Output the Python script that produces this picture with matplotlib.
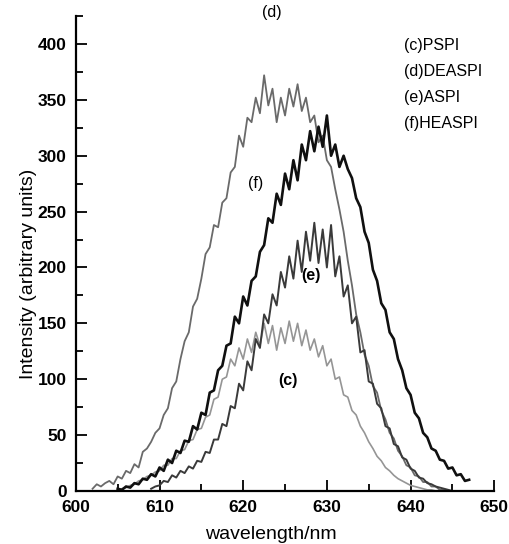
import numpy as np
import matplotlib
matplotlib.use("Agg")
import matplotlib.pyplot as plt
from matplotlib.ticker import MultipleLocator

step = 0.5

# (c) PSPI
c_start = 605.0
c_vals = [1, 2, 3, 5, 6, 9, 10, 13, 14, 17, 18, 23, 23, 29, 29, 36, 37, 45,
          46, 55, 56, 66, 68, 82, 84, 100, 102, 118, 112, 128, 118, 136, 124,
          142, 130, 150, 132, 148, 126, 146, 132, 152, 134, 150, 130, 144,
          126, 136, 120, 130, 112, 118, 100, 102, 86, 84, 72, 68, 58, 52, 44,
          38, 31, 27, 21, 18, 14, 11, 9, 7, 5, 4, 3, 2, 1, 1, 0]

# (d) DEASPI
d_start = 602.0
d_vals = [2, 6, 4, 7, 9, 6, 13, 11, 18, 16, 24, 21, 35, 38, 44, 52, 56, 68,
          74, 92, 98, 118, 134, 142, 165, 172, 190, 212, 218, 238, 236, 258,
          262, 285, 290, 318, 308, 334, 330, 352, 338, 372, 345, 360, 330,
          352, 336, 360, 344, 364, 340, 352, 330, 336, 312, 318, 296, 290,
          270, 252, 232, 206, 184, 158, 142, 122, 112, 94, 88, 72, 64, 52, 47,
          36, 31, 23, 21, 14, 13, 8, 8, 4, 4, 1, 1]

# (e) ASPI
e_start = 609.0
e_vals = [2, 4, 5, 9, 8, 14, 12, 18, 16, 22, 20, 27, 26, 35, 34, 46, 46, 60,
          58, 76, 74, 96, 90, 116, 108, 136, 128, 158, 150, 176, 166, 196,
          182, 210, 190, 224, 196, 232, 206, 240, 204, 234, 200, 238, 192,
          210, 174, 184, 150, 156, 124, 126, 98, 96, 78, 74, 58, 56, 42, 40,
          30, 28, 20, 18, 12, 11, 7, 6, 4, 3, 2, 1, 0]

# (f) HEASPI
f_start = 605.0
f_vals = [2, 1, 4, 3, 7, 6, 11, 10, 15, 13, 21, 18, 28, 25, 36, 34, 45, 44,
          58, 55, 70, 68, 88, 90, 108, 112, 130, 132, 156, 150, 174, 166, 188,
          192, 214, 220, 244, 240, 266, 256, 284, 270, 296, 278, 310, 296,
          322, 304, 326, 308, 336, 300, 310, 290, 300, 288, 280, 262, 254,
          232, 222, 198, 188, 168, 162, 142, 136, 118, 108, 92, 86, 70, 65,
          52, 48, 38, 36, 28, 27, 20, 21, 14, 15, 9, 10]

curve_tags = ["(c)", "(d)", "(e)", "(f)"]
legend_lines = ["(c)PSPI", "(d)DEASPI", "(e)ASPI", "(f)HEASPI"]

plt.rcParams["font.family"] = ["Liberation Sans", "DejaVu Sans"]


def wl(start, vals):
    return start + step * np.arange(len(vals))


fig = plt.figure(figsize=(5.09, 5.44), dpi=100)
ax = fig.add_axes([0.149, 0.0975, 0.822, 0.873])

ax.plot(wl(c_start, c_vals), c_vals, color="#959595", lw=1.2)
ax.plot(wl(d_start, d_vals), d_vals, color="#6a6a6a", lw=1.3)
ax.plot(wl(e_start, e_vals), e_vals, color="#3a3a3a", lw=1.4)
ax.plot(wl(f_start, f_vals), f_vals, color="#101010", lw=1.9)

ax.set_xlim(600, 650)
ax.set_ylim(0, 425)
ax.xaxis.set_major_locator(MultipleLocator(10))
ax.xaxis.set_minor_locator(MultipleLocator(5))
ax.yaxis.set_major_locator(MultipleLocator(50))
ax.yaxis.set_minor_locator(MultipleLocator(25))
ax.tick_params(which="both", direction="in", width=1.3, colors="black")
ax.tick_params(which="major", length=8, pad=6.5, labelsize=12.5)
ax.tick_params(which="minor", length=5)
for lab in ax.get_xticklabels() + ax.get_yticklabels():
    lab.set_fontweight("bold")

ax.spines["top"].set_visible(False)
ax.spines["right"].set_visible(False)
ax.spines["left"].set_linewidth(1.6)
ax.spines["bottom"].set_linewidth(1.6)

ax.set_ylabel("Intensity (arbitrary units)", fontsize=14, va="center")
ax.yaxis.set_label_coords(-0.114, 0.457)
ax.set_xlabel("wavelength/nm", fontsize=14, va="top")
ax.xaxis.set_label_coords(0.466, -0.074)

# curve tags
tag_pos = {"(c)": (625.4, 99), "(d)": (623.4, 428), "(e)": (628.1, 193),
           "(f)": (621.5, 275)}
tag_weight = {"(c)": "bold", "(d)": "normal", "(e)": "bold", "(f)": "normal"}
for t in curve_tags:
    x, y = tag_pos[t]
    ax.text(x, y, t, fontsize=11.5, fontweight=tag_weight[t],
            ha="center", va="center", clip_on=False)

for i, t in enumerate(legend_lines):
    ax.text(639.2, 399 - 23.5 * i, t, fontsize=11.5, ha="left", va="center")

fig.savefig("out.png", dpi=100)
